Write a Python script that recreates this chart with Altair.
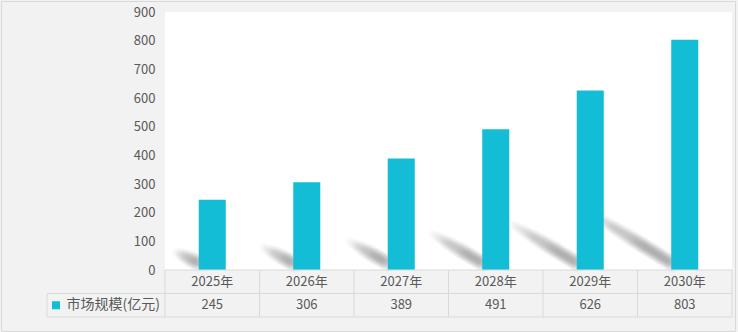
import altair as alt
import pandas as pd

# Market size by year (100 million yuan)
years = ["2025年", "2026年", "2027年", "2028年", "2029年", "2030年"]
market_size = [245, 306, 389, 491, 626, 803]
series_name = "市场规模(亿元)"
y_ticks = list(range(0, 901, 100))

BAR = "#12bdd5"
TEXT = "#595959"
LINE = "#d9d9d9"
BG = "#f2f2f2"
FONT = "Noto Sans CJK SC"

PLOT_W, PLOT_H = 567, 258
N = len(years)
PX = PLOT_W / N                      # pixels per category
PY = PLOT_H / 900                    # pixels per unit of value
LABEL_LEFT = -0.5 - 118 / PX         # left edge of the series label cell
ROW_H = 23.5                         # table row height in pixels

df = pd.DataFrame({"year": years, "value": market_size, "i": range(N)})

xs = alt.Scale(domain=[-0.5, N - 0.5], nice=False, zero=False)
ys = alt.Scale(domain=[0, 900], nice=False)
ts = alt.Scale(domain=[0, 2], range=[PLOT_H, PLOT_H + 2 * ROW_H], nice=False, zero=False)

X = lambda f: alt.X(f, type="quantitative", scale=xs, axis=None)

# Soft diagonal shadows cast by the columns: a chain of faint overlapping
# discs along each shadow, stacked in several sizes for a blurred edge
shadow_base = alt.Chart(df).transform_calculate(
    sx="datum.i - (0.1 + 0.00118 * datum.value)",
    sy="0.26 * datum.value",
    ex="datum.i - 0.12",
    ey="20",
).transform_calculate(
    len=f"sqrt(pow((datum.ex - datum.sx) * {PX}, 2) + pow((datum.ey - datum.sy) * {PY}, 2))",
).transform_calculate(
    t="sequence(0, 1.0001, 3 / datum.len)"
).transform_flatten(["t"]).transform_calculate(
    px="datum.sx + datum.t * (datum.ex - datum.sx)",
    py="datum.sy + datum.t * (datum.ey - datum.sy)",
    w="min(1, 0.35 + 1.3 * datum.t)",
    o="0.03 * min(1, 0.25 + 1.2 * datum.t)",
)
shadows = [
    shadow_base.mark_circle(color="#444444").encode(
        x=X("px"),
        y=alt.Y("py:Q", scale=ys, axis=None),
        size=alt.Size("w:Q", scale=alt.Scale(domain=[0, 1], range=[0, 3.1416 * d * d / 4]), legend=None),
        opacity=alt.Opacity("o:Q", scale=None),
    )
    for d in [19, 15, 11, 7]
]

bars = alt.Chart(df).transform_calculate(
    x0="datum.i - 0.143", x1="datum.i + 0.143"
).mark_rect(color=BAR).encode(
    x=X("x0"),
    x2="x1:Q",
    y=alt.Y(
        "value:Q",
        scale=ys,
        axis=alt.Axis(
            values=y_ticks, tickSize=0, domain=False, grid=False, labelPadding=10,
            labelColor=TEXT, labelFontSize=13, labelFont=FONT, title=None,
        ),
    ),
    y2=alt.datum(0),
)

# Data table grid under the plot
grid_rows = []
for k in range(N + 1):
    grid_rows.append({"x": k - 0.5, "x2": k - 0.5, "y": 0, "y2": 2})
grid_rows.append({"x": LABEL_LEFT, "x2": LABEL_LEFT, "y": 1, "y2": 2})
grid_rows.append({"x": -0.5, "x2": N - 0.5, "y": 0, "y2": 0})
grid_rows.append({"x": LABEL_LEFT, "x2": N - 0.5, "y": 1, "y2": 1})
grid_rows.append({"x": LABEL_LEFT, "x2": N - 0.5, "y": 2, "y2": 2})
grid = alt.Chart(pd.DataFrame(grid_rows)).mark_rule(color=LINE, strokeWidth=1).encode(
    x=X("x"), x2="x2:Q", y=alt.Y("y:Q", scale=ts, axis=None), y2="y2:Q"
)

text_style = dict(font=FONT, fontSize=13, color=TEXT, baseline="middle")
year_text = alt.Chart(df).transform_calculate(r="0.5").mark_text(**text_style).encode(
    x=X("i"), y=alt.Y("r:Q", scale=ts, axis=None), text="year:N"
)
value_text = alt.Chart(df).transform_calculate(r="1.5").mark_text(**text_style).encode(
    x=X("i"), y=alt.Y("r:Q", scale=ts, axis=None), text="value:Q"
)

label_df = pd.DataFrame({"name": [series_name], "r": [1.5], "edge": [-0.5], "key": [LABEL_LEFT + 9 / PX]})
label_text = alt.Chart(label_df).mark_text(
    font=FONT, fontSize=14, color=TEXT, baseline="middle", align="right", dx=-5
).encode(x=X("edge"), y=alt.Y("r:Q", scale=ts, axis=None), text="name:N")
label_key = alt.Chart(label_df).mark_square(size=64, color=BAR, opacity=1).encode(
    x=X("key"), y=alt.Y("r:Q", scale=ts, axis=None)
)

frame = alt.Chart(pd.DataFrame({"k": [0]})).mark_rect(
    fillOpacity=0, stroke=LINE, strokeWidth=1
).encode(
    x=alt.value(-163.5), x2=alt.value(PLOT_W + 3.5), y=alt.value(-10.5), y2=alt.value(PLOT_H + 61.5)
)

chart = alt.layer(
    *shadows, bars, grid, year_text, value_text, label_text, label_key, frame
).resolve_scale(y="independent", size="independent").properties(
    width=PLOT_W,
    height=PLOT_H,
    padding={"left": 165, "top": 12, "right": 6, "bottom": 62},
    autosize=alt.AutoSizeParams(type="none"),
    background=BG,
).configure_view(fill="white", stroke=None)

chart.save("out.html", embed_options={"renderer": "svg", "actions": False})
